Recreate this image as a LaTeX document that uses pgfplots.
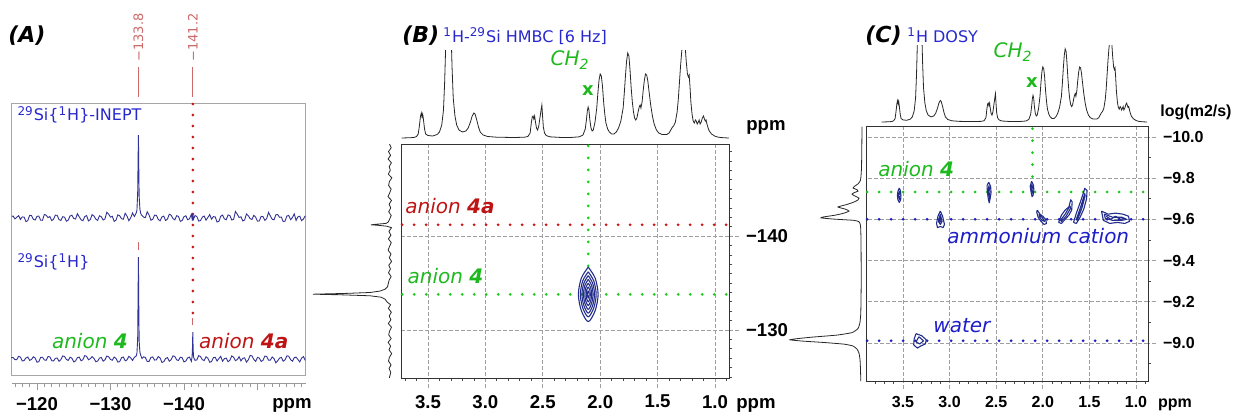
\documentclass[border=0pt]{standalone}
\usepackage{fontspec}
\setmainfont{DejaVu Sans}
\newfontfamily\arialf{Liberation Sans}
\usepackage{pgfplots}
\usepackage{pgfplotstable}
\pgfplotsset{compat=1.18}

\definecolor{specblue}{RGB}{50,50,150}
\definecolor{labblue}{RGB}{40,40,205}
\definecolor{labgreen}{RGB}{30,185,30}
\definecolor{labred}{RGB}{190,20,20}
\definecolor{peakred}{RGB}{205,105,105}
\definecolor{cntblue}{RGB}{35,45,140}
\definecolor{dotblue}{RGB}{30,30,200}
\definecolor{dotred}{RGB}{200,25,25}
\definecolor{dotgreen}{RGB}{30,200,30}

\newcommand{\tkAB}{\arialf\bfseries\fontsize{9.3}{11}\selectfont}
\newcommand{\tkC}{\arialf\bfseries\fontsize{8}{9.5}\selectfont}
\newcommand{\lab}{\fontsize{10}{12}\selectfont}
\newcommand{\sml}{\fontsize{8}{9.6}\selectfont}
\newcommand{\pan}{\fontsize{11}{13}\selectfont\bfseries\itshape}

\pgfplotsset{
  nmr/.style={scale only axis, anchor=south west, x dir=reverse},
  nmrline/.style={black!85, line width=0.4pt},
  dotl/.style={line width=1.5pt, line cap=round, dash pattern=on 0pt off 6pt},
  cntr/.style={cntblue, line width=0.55pt, line join=round},
  gridd/.style={gray!75, line width=0.35pt, dash pattern=on 2pt off 1pt},
}

% 1H spectrum (heights in px of panel B)
\pgfplotstableread{
x h
3.73 0
3.65 0.3
3.62 0.6
3.60 1.5
3.585 4
3.575 12
3.565 22
3.558 25
3.552 21
3.546 24
3.54 19
3.53 9
3.52 4
3.50 2.5
3.46 2
3.42 3.5
3.40 6
3.38 13
3.365 28
3.355 55
3.345 95
3.33 150
3.315 150
3.30 110
3.29 70
3.28 40
3.265 22
3.25 13
3.23 8
3.20 6
3.17 7
3.15 10
3.13 16
3.115 22
3.10 25
3.09 24
3.075 18
3.06 11
3.045 6
3.02 3
2.98 1.5
2.90 0.8
2.75 0.5
2.66 0.8
2.63 1.5
2.61 5
2.60 15
2.592 21
2.585 22
2.578 19
2.571 22
2.565 17
2.555 10
2.545 8
2.535 12
2.525 20
2.515 28
2.508 33
2.502 22
2.495 11
2.485 5
2.47 2.5
2.44 1.2
2.35 0.6
2.25 0.6
2.18 1.2
2.15 3
2.13 9
2.12 18
2.112 27
2.105 31
2.098 28
2.09 18
2.08 10
2.07 7
2.06 8
2.045 16
2.03 30
2.02 45
2.01 58
2.00 64
1.99 62
1.98 52
1.97 36
1.96 24
1.95 15
1.935 9
1.92 6
1.90 4
1.88 4
1.86 6
1.84 10
1.82 17
1.80 30
1.79 45
1.78 62
1.77 77
1.76 85
1.75 82
1.74 68
1.73 50
1.72 36
1.71 26
1.70 20
1.69 18
1.68 20
1.67 26
1.66 31
1.652 33
1.645 30
1.635 36
1.625 48
1.615 58
1.605 64
1.595 63
1.585 57
1.575 47
1.56 33
1.545 22
1.53 14
1.51 8
1.49 5
1.46 3.5
1.42 3.5
1.40 5
1.385 8
1.37 11
1.36 12
1.345 16
1.33 26
1.32 38
1.31 55
1.30 72
1.29 86
1.28 96
1.27 98
1.26 92
1.25 76
1.24 64
1.232 61
1.225 63
1.218 52
1.21 36
1.20 24
1.19 17
1.18 15
1.17 18
1.163 17
1.155 14
1.145 16
1.138 18
1.13 14
1.12 16
1.11 20
1.10 22
1.092 19
1.085 17
1.078 18
1.07 14
1.06 10
1.05 7
1.03 4
1.00 1.8
0.97 0.8
0.93 0.3
0.88 0
}\hspec

% 29Si projection of panel B
\pgfplotstableread{
p h
-149.8 0.5
-149.4 -1.2
-149.0 1.5
-148.6 -0.6
-148.2 1.9
-147.8 -1.4
-147.4 0.8
-147.0 -0.3
-146.6 1.7
-146.2 -1.8
-145.8 0.6
-145.4 1.4
-145.0 -1.1
-144.6 0.3
-144.2 2.0
-143.8 -1.5
-143.4 0.9
-143.0 -0.7
-142.6 1.3
-142.2 -1.2
-141.8 0.4
-141.5 1.8
-141.35 4
-141.25 15
-141.2 19
-141.15 12
-141.05 3
-140.9 -1.5
-140.5 1.1
-140.1 -0.9
-139.7 1.6
-139.3 -1.3
-138.9 0.5
-138.5 1.9
-138.1 -1.0
-137.7 0.7
-137.3 -1.6
-136.9 1.2
-136.5 -0.4
-136.1 1.5
-135.7 -1.1
-135.3 0.9
-134.9 1.8
-134.6 2.5
-134.35 5
-134.15 10
-134.0 20
-133.9 45
-133.82 77
-133.75 48
-133.65 20
-133.5 9
-133.3 5
-133.0 3
-132.7 -0.5
-132.3 1.6
-131.9 -1.3
-131.5 0.8
-131.1 -0.9
-130.7 1.7
-130.3 -1.5
-129.9 0.4
-129.5 1.3
-129.1 -1.2
-128.7 1.9
-128.3 -0.6
-127.9 1.0
-127.5 -1.7
-127.1 0.6
-126.7 1.5
-126.3 -1.0
-125.9 0.9
-125.5 -0.8
-124.9 0.7
}\siproj

% panel A: INEPT (up) and 29Si{1H} (lo), px above each baseline
\pgfplotstableread{
x up lo
-156.5 2.2 -1.4
-156.25 -1.0 2.5
-156.0 -2.7 0.8
-155.75 1.8 -2.9
-155.5 1.1 -0.5
-155.25 -2.4 1.9
-155.0 4.1 1.3
-154.75 0.3 -2.2
-154.5 -1.6 -0.5
-154.25 2.6 2.8
-154.0 2.0 3.2
-153.75 -3.1 -0.9
-153.5 -3.6 -2.2
-153.25 0.9 1.6
-153.0 0.7 0.9
-152.75 3.5 -1.7
-152.5 3.2 -3.8
-152.25 -1.8 0.4
-152.0 -1.3 2.0
-151.75 2.1 -1.1
-151.5 5.6 -1.1
-151.25 -0.6 2.6
-151.0 -2.3 2.9
-150.75 1.4 -1.3
-150.5 1.6 -2.5
-150.25 -2.9 1.0
-150.0 -3.2 1.6
-149.75 0.8 -2.4
-149.5 2.7 -0.4
-149.25 -1.5 3.1
-149.0 -0.7 3.6
-148.75 2.3 -0.8
-148.5 4.0 -3.1
-148.25 -2.0 1.2
-148.0 -2.9 0.7
-147.75 1.2 -1.9
-147.5 0.5 2.3
-147.25 3.8 -0.6
-147.0 6.5 -1.6
-146.75 -1.4 1.8
-146.5 -2.0 3.1
-146.25 2.4 -1.2
-146.0 3.1 -2.7
-145.75 -1.7 0.9
-145.5 -0.9 0.4
-145.25 2.9 -2.3
-145.0 1.8 2.7
-144.75 -3.3 0.5
-144.5 -4.0 -2.0
-144.25 1.1 1.7
-144.0 1.4 1.4
-143.75 -1.2 -2.6
-143.5 3.4 -3.2
-143.25 0.6 0.8
-143.0 -2.2 2.2
-142.75 2.0 -1.5
-142.5 0.9 -0.7
-142.25 -2.6 2.4
-142.0 -3.1 3.4
-141.75 1.5 -0.9
-141.5 2.5 -1.3
-141.3 -1.1 2
-141.25 1.4 9
-141.2 -2.7 27
-141.15 1.6 10
-141.1 -0.7 2
-141.0 3.6 -2.3
-140.75 -0.8 1.9
-140.5 -1.8 1.1
-140.25 2.2 -2.0
-140.0 1.3 -2.9
-139.75 -2.5 1.3
-139.5 -3.4 1.8
-139.25 1.6 -1.4
-139.0 2.3 -0.9
-138.75 -1.9 2.6
-138.5 -0.5 3.2
-138.25 2.8 -0.7
-138.0 3.8 -2.2
-137.75 -1.1 1.4
-137.5 -2.5 0.5
-137.25 1.9 -2.7
-137.0 1.1 -3.4
-136.75 -2.8 1.1
-136.5 -1.4 2.5
-136.25 2.6 -0.8
-136.0 2.9 -1.1
-135.75 -1.3 2.1
-135.5 -2.2 1.6
-135.25 3.0 -2.4
-135.0 6.3 -2.5
-134.75 0.4 1.5
-134.5 0.9 2.2
-134.3 2.5 0.5
-134.2 3 2
-134.1 5 4
-134.0 9 7
-133.9 22 18
-133.85 50 55
-133.8 83 102
-133.75 55 60
-133.7 25 20
-133.6 8 6
-133.5 5 3
-133.25 1.5 1.8
-133.0 5.0 -1.4
-132.75 0.2 1.2
-132.5 -2.7 2.7
-132.25 1.9 -0.9
-132.0 4.7 -1.8
-131.75 -1.2 2.0
-131.5 -0.7 1.3
-131.25 2.3 -2.6
-131.0 3.2 -3.1
-130.75 -2.2 0.6
-130.5 -3.4 2.0
-130.25 1.7 -1.2
-130.0 0.9 -0.5
-129.75 3.9 2.3
-129.5 5.8 2.9
-129.25 -0.9 -0.8
-129.0 -2.0 -2.2
-128.75 1.3 1.5
-128.5 2.2 0.9
-128.25 -2.4 -2.1
-128.0 -1.1 -2.7
-127.75 2.0 0.7
-127.5 3.4 2.3
-127.25 -1.6 0.3
-127.0 -2.9 -0.7
-126.75 2.5 2.7
-126.5 1.4 3.4
-126.25 -2.7 -0.6
-126.0 -1.8 -1.8
-125.75 1.2 1.9
-125.5 4.3 1.4
-125.25 -1.0 -1.9
-125.0 -0.5 -2.9
-124.75 2.8 0.8
-124.5 2.0 1.8
-124.25 -2.1 -1.4
-124.0 -3.2 -0.4
-123.75 0.8 2.5
-123.5 1.3 3.1
-123.25 -2.5 -0.6
-123.0 -1.6 -2.3
-122.75 2.6 1.0
-122.5 2.9 0.7
-122.25 -1.3 -2.0
-122.0 -2.5 -1.6
-121.75 1.5 2.2
-121.5 0.4 2.5
-121.25 2.7 -1.3
-121.0 3.6 -0.9
-120.75 -2.3 1.8
-120.5 -2.2 1.6
-120.25 1.9 -2.6
-120.0 1.6 -3.2
-119.75 -2.0 1.0
-119.5 -1.3 2.2
-119.25 2.4 -0.5
-119.0 2.7 -1.3
-118.75 -2.6 2.0
-118.5 -3.6 1.1
-118.25 0.9 -1.5
-118.0 1.1 -2.0
-117.75 -1.4 1.9
-117.5 2.3 2.7
-117.25 0.8 -0.6
-117.0 -0.9 -0.7
-116.75 2.0 1.5
-116.5 1.4 1.3
}\aspec

% DOSY projection of panel C
\pgfplotstableread{
p h
-10.05 0
-9.95 0.2
-9.85 0.5
-9.80 1.2
-9.785 2
-9.772 4
-9.762 7
-9.752 9
-9.744 5
-9.737 4
-9.729 8
-9.722 10
-9.713 7
-9.703 3
-9.694 4
-9.684 8
-9.672 15
-9.660 24
-9.650 17
-9.640 13
-9.630 18
-9.620 27
-9.612 38
-9.607 41
-9.601 28
-9.595 8
-9.588 3
-9.57 1.5
-9.50 1
-9.3 0.8
-9.15 1.2
-9.10 2
-9.07 4
-9.05 10
-9.038 25
-9.028 50
-9.02 66
-9.015 72
-9.009 60
-9.002 38
-8.994 18
-8.985 9
-8.97 5
-8.95 3
-8.92 2
-8.87 1.5
-8.815 1.2
}\dproj

\begin{document}
\begin{tikzpicture}
\path[use as bounding box] (0,0) rectangle (618pt,-207pt);

% ================= panel A =================
\begin{axis}[nmr, at={(6pt,-191.5pt)}, width=147pt, height=2pt,
  xmin=-156.6, xmax=-116.6, ymin=0, ymax=1,
  axis x line=bottom, hide y axis, x axis line style={-, gray!80},
  tick align=outside, xtick={-150,-140,-130,-120}, xticklabels={,−140,−130,−120},
  minor xtick={-156,-155,...,-117},
  major tick length=3.5pt, minor tick length=2pt,
  tick style={gray!80, line width=0.4pt},
  ticklabel style={font=\tkAB}]
\end{axis}

\begin{axis}[nmr, at={(6pt,-187.5pt)}, width=147pt, height=136pt,
  xmin=-156.6, xmax=-116.6, ymin=-16, ymax=256,
  xtick=\empty, ytick=\empty, axis line style={gray!70, line width=0.5pt}, clip=false]
\addplot[specblue, line width=0.45pt] table[x=x,y=lo]{\aspec};
\addplot[dotl, dotred, dash pattern=on 0pt off 5.5pt] coordinates {(-141.2,255) (-141.2,46)};
\addplot[peakred, line width=0.4pt] coordinates {(-133.8,262) (-133.8,292)};
\addplot[peakred, line width=0.4pt] coordinates {(-141.2,262) (-141.2,292)};
\addplot[peakred, line width=0.4pt] coordinates {(-133.8,109) (-133.8,117)};
\addplot[peakred, line width=0.4pt] coordinates {(-141.2,34) (-141.2,41)};
\node[rotate=90, anchor=west, text=peakred, font=\fontsize{6.5}{8}\selectfont, inner sep=1pt] at (axis cs:-133.8,295) {−133.8};
\node[rotate=90, anchor=west, text=peakred, font=\fontsize{6.5}{8}\selectfont, inner sep=1pt] at (axis cs:-141.2,295) {−141.2};
\node[anchor=west, text=labblue, font=\sml, inner sep=0pt] at (axis cs:-117.3,244) {\textsuperscript{29}Si\{\textsuperscript{1}H\}-INEPT};
\node[anchor=west, text=labblue, font=\sml, inner sep=0pt] at (axis cs:-117.3,97) {\textsuperscript{29}Si\{\textsuperscript{1}H\}};
\node[anchor=base east, text=labgreen, font=\lab, inner sep=0pt] at (axis cs:-132.4,11) {\textit{anion} \textbf{\textit{4}}};
\node[anchor=base west, text=labred, font=\lab, inner sep=0pt] at (axis cs:-142.0,11) {\textit{anion} \textbf{\textit{4a}}};
\end{axis}

\begin{axis}[nmr, hide axis, at={(6pt,-187.5pt)}, width=147pt, height=136pt,
  xmin=-156.6, xmax=-116.6, ymin=-157, ymax=115]
\addplot[specblue, line width=0.45pt] table[x=x,y=up]{\aspec};
\end{axis}

% ================= panel B =================
\begin{axis}[nmr, hide axis, at={(200.5pt,-70pt)}, width=164pt, height=45pt,
  xmin=0.878, xmax=3.735, ymin=-2, ymax=88]
\addplot[nmrline] table[x=x,y=h]{\hspec};
\end{axis}

\begin{axis}[nmr, hide axis, at={(152.5pt,-189pt)}, width=45pt, height=117pt,
  xmin=-5, xmax=85, ymin=-149.8, ymax=-124.9, y dir=reverse]
\addplot[nmrline] table[x=h,y=p]{\siproj};
\end{axis}

\begin{axis}[nmr, at={(200.5pt,-189pt)}, width=164pt, height=117pt,
  xmin=0.878, xmax=3.735, ymin=-149.8, ymax=-124.9, y dir=reverse,
  xtick={1,1.5,2,2.5,3,3.5}, xticklabels={1.0,1.5,2.0,2.5,3.0,3.5},
  minor xtick={0.9,1.1,1.2,1.3,1.4,1.6,1.7,1.8,1.9,2.1,2.2,2.3,2.4,2.6,2.7,2.8,2.9,3.1,3.2,3.3,3.4,3.6,3.7},
  ytick={-140,-130}, yticklabels={−140,−130},
  minor ytick={-149,-148,-147,-146,-145,-144,-143,-142,-141,-139,-138,-137,-136,-135,-134,-133,-132,-131,-129,-128,-127,-126,-125},
  xtick pos=bottom, ytick pos=right, yticklabel pos=right,
  tick align=outside, grid=major, major grid style={gridd},
  major tick length=5pt, minor tick length=1.6pt,
  major tick style={gridd}, minor tick style={black!70, line width=0.4pt},
  axis line style={black!80, line width=0.5pt},
  ticklabel style={font=\tkAB}, clip=false]
\addplot[dotl, dotred] coordinates {(3.725,-141.2) (0.88,-141.2)};
\addplot[dotl, dotgreen] coordinates {(3.725,-133.8) (0.88,-133.8)};
\addplot[dotl, dotgreen] coordinates {(2.104,-149.6) (2.104,-136.8)};
\addplot[cntr, smooth] coordinates {(2.104,-136.7) (2.044,-135.54) (2.018,-133.8) (2.044,-132.06) (2.104,-130.9) (2.164,-132.06) (2.190,-133.8) (2.164,-135.54) (2.104,-136.7)};
\addplot[cntr, smooth] coordinates {(2.104,-136.2) (2.056,-135.24) (2.035,-133.8) (2.056,-132.36) (2.104,-131.4) (2.152,-132.36) (2.173,-133.8) (2.152,-135.24) (2.104,-136.2)};
\addplot[cntr, smooth] coordinates {(2.104,-135.8) (2.066,-135.0) (2.049,-133.8) (2.066,-132.6) (2.104,-131.8) (2.142,-132.6) (2.159,-133.8) (2.142,-135.0) (2.104,-135.8)};
\addplot[cntr, smooth] coordinates {(2.104,-135.4) (2.075,-134.76) (2.062,-133.8) (2.075,-132.84) (2.104,-132.2) (2.133,-132.84) (2.146,-133.8) (2.133,-134.76) (2.104,-135.4)};
\addplot[cntr, smooth] coordinates {(2.104,-135.0) (2.083,-134.52) (2.074,-133.8) (2.083,-133.08) (2.104,-132.6) (2.125,-133.08) (2.134,-133.8) (2.125,-134.52) (2.104,-135.0)};
\addplot[cntr, smooth] coordinates {(2.104,-134.6) (2.091,-134.28) (2.086,-133.8) (2.091,-133.32) (2.104,-133.0) (2.117,-133.32) (2.122,-133.8) (2.117,-134.28) (2.104,-134.6)};
\addplot[cntr, smooth] coordinates {(2.104,-134.2) (2.098,-134.0) (2.096,-133.8) (2.098,-133.6) (2.104,-133.4) (2.110,-133.6) (2.112,-133.8) (2.110,-134.0) (2.104,-134.2)};
\node[anchor=base west, text=labred, font=\lab, inner sep=0pt] at (axis cs:3.70,-142.45) {\textit{anion} \textbf{\textit{4a}}};
\node[anchor=base west, text=labgreen, font=\lab, inner sep=0pt] at (axis cs:3.68,-135.0) {\textit{anion} \textbf{\textit{4}}};
\end{axis}

% ================= panel C =================
\begin{axis}[nmr, hide axis, at={(433pt,-62pt)}, width=141pt, height=39.5pt,
  xmin=0.871, xmax=3.897, ymin=-2.3, ymax=89.5]
\addplot[nmrline] table[x=x,y=h]{\hspec};
\end{axis}

\begin{axis}[nmr, hide axis, at={(392.5pt,-190.5pt)}, width=40.5pt, height=127.5pt,
  xmin=-4, xmax=77, ymin=-10.053, ymax=-8.815, y dir=reverse]
\addplot[nmrline, smooth, tension=0.3] table[x=h,y=p]{\dproj};
\end{axis}

\begin{axis}[nmr, at={(433pt,-190.5pt)}, width=141pt, height=127.5pt,
  xmin=0.871, xmax=3.897, ymin=-10.053, ymax=-8.815, y dir=reverse,
  xtick={1,1.5,2,2.5,3,3.5}, xticklabels={1.0,1.5,2.0,2.5,3.0,3.5},
  minor xtick={0.9,1.1,1.2,1.3,1.4,1.6,1.7,1.8,1.9,2.1,2.2,2.3,2.4,2.6,2.7,2.8,2.9,3.1,3.2,3.3,3.4,3.6,3.7,3.8},
  ytick={-10,-9.8,-9.6,-9.4,-9.2,-9.0}, yticklabels={−10.0,−9.8,−9.6,−9.4,−9.2,−9.0},
  minor ytick={-9.9,-9.7,-9.5,-9.3,-9.1,-8.9},
  xtick pos=bottom, ytick pos=right, yticklabel pos=right,
  tick align=outside, grid=major, major grid style={gridd},
  major tick length=4pt, minor tick length=1.6pt,
  major tick style={gridd}, minor tick style={black!70, line width=0.4pt},
  axis line style={black!80, line width=0.5pt},
  ticklabel style={font=\tkC}, clip=false]
\addplot[dotl, dotgreen] coordinates {(3.885,-9.733) (0.875,-9.733)};
\addplot[dotl, dotblue] coordinates {(3.885,-9.60) (0.875,-9.60)};
\addplot[dotl, dotblue] coordinates {(3.885,-9.01) (0.875,-9.01)};
\addplot[dotl, dotgreen] coordinates {(2.11,-10.04) (2.11,-9.80)};
% contour blobs
\addplot[cntr] coordinates {(3.54,-9.752) (3.555,-9.735) (3.56,-9.716) (3.555,-9.695) (3.54,-9.682) (3.525,-9.695) (3.522,-9.716) (3.527,-9.738) (3.54,-9.752)};
\addplot[cntr] coordinates {(3.54,-9.738) (3.55,-9.716) (3.54,-9.695) (3.53,-9.716) (3.54,-9.738)};
\addplot[cntr] coordinates {(3.10,-9.64) (3.075,-9.615) (3.055,-9.575) (3.07,-9.56) (3.10,-9.565) (3.13,-9.56) (3.14,-9.58) (3.125,-9.615) (3.10,-9.64)};
\addplot[cntr] coordinates {(3.10,-9.625) (3.08,-9.59) (3.10,-9.575) (3.12,-9.59) (3.10,-9.625)};
\addplot[cntr] coordinates {(3.10,-9.61) (3.09,-9.59) (3.11,-9.585) (3.10,-9.61)};
\addplot[cntr] coordinates {(2.58,-9.78) (2.56,-9.76) (2.555,-9.73) (2.565,-9.70) (2.575,-9.68) (2.585,-9.70) (2.595,-9.735) (2.598,-9.765) (2.58,-9.78)};
\addplot[cntr] coordinates {(2.578,-9.765) (2.567,-9.735) (2.575,-9.70) (2.585,-9.735) (2.578,-9.765)};
\addplot[cntr] coordinates {(2.12,-9.785) (2.10,-9.765) (2.095,-9.74) (2.105,-9.715) (2.115,-9.71) (2.125,-9.73) (2.135,-9.76) (2.12,-9.785)};
\addplot[cntr] coordinates {(2.118,-9.77) (2.105,-9.745) (2.115,-9.725) (2.125,-9.75) (2.118,-9.77)};
\addplot[cntr] coordinates {(2.06,-9.645) (2.03,-9.625) (2.0,-9.615) (1.97,-9.60) (1.96,-9.58) (1.985,-9.575) (2.02,-9.59) (2.05,-9.61) (2.065,-9.635) (2.06,-9.645)};
\addplot[cntr] coordinates {(2.04,-9.625) (2.0,-9.605) (1.98,-9.59) (2.01,-9.595) (2.04,-9.615) (2.04,-9.625)};
\addplot[cntr] coordinates {(1.83,-9.585) (1.80,-9.62) (1.76,-9.645) (1.72,-9.66) (1.70,-9.695) (1.685,-9.685) (1.69,-9.645) (1.72,-9.62) (1.76,-9.60) (1.80,-9.58) (1.83,-9.585)};
\addplot[cntr] coordinates {(1.81,-9.595) (1.76,-9.625) (1.71,-9.665) (1.70,-9.655) (1.75,-9.615) (1.80,-9.59) (1.81,-9.595)};
\addplot[cntr] coordinates {(1.67,-9.585) (1.64,-9.63) (1.60,-9.68) (1.57,-9.72) (1.55,-9.75) (1.525,-9.74) (1.53,-9.70) (1.56,-9.65) (1.60,-9.61) (1.64,-9.58) (1.67,-9.585)};
\addplot[cntr] coordinates {(1.64,-9.60) (1.59,-9.665) (1.55,-9.725) (1.545,-9.715) (1.58,-9.655) (1.63,-9.595) (1.64,-9.60)};
\addplot[cntr] coordinates {(1.37,-9.64) (1.30,-9.625) (1.22,-9.63) (1.14,-9.625) (1.08,-9.615) (1.07,-9.59) (1.12,-9.58) (1.20,-9.585) (1.28,-9.58) (1.35,-9.595) (1.37,-9.64)};
\addplot[cntr] coordinates {(1.34,-9.625) (1.25,-9.61) (1.15,-9.61) (1.10,-9.60) (1.15,-9.595) (1.25,-9.595) (1.33,-9.605) (1.34,-9.625)};
\addplot[cntr] coordinates {(1.32,-9.615) (1.27,-9.60) (1.22,-9.615) (1.17,-9.60) (1.12,-9.605)};
\addplot[cntr] coordinates {(3.36,-9.045) (3.30,-9.035) (3.25,-9.015) (3.26,-8.995) (3.31,-8.985) (3.345,-8.975) (3.385,-8.99) (3.38,-9.02) (3.36,-9.045)};
\addplot[cntr] coordinates {(3.33,-9.03) (3.28,-9.01) (3.32,-8.995) (3.36,-9.005) (3.33,-9.03)};
\node[anchor=base west, text=labgreen, font=\lab, inner sep=0pt] at (axis cs:3.768,-9.806) {\textit{anion} \textbf{\textit{4}}};
\node[anchor=base west, text=dotblue, font=\lab, inner sep=0pt] at (axis cs:3.028,-9.485) {\textit{ammonium cation}};
\node[anchor=base west, text=dotblue, font=\lab, inner sep=0pt] at (axis cs:3.178,-9.049) {\textit{water}};
\end{axis}

% ================= free text =================
\node[anchor=base west, font=\pan, inner sep=0pt] at (4pt,-21pt) {(A)};
\node[anchor=base west, font=\pan, inner sep=0pt] at (201pt,-21pt) {(B)};
\node[anchor=base west, font=\sml, text=labblue, inner sep=0pt] at (221.5pt,-21pt) {\textsuperscript{1}H-\textsuperscript{29}Si HMBC [6 Hz]};
\node[anchor=base west, font=\pan, inner sep=0pt] at (432.5pt,-21pt) {(C)};
\node[anchor=base west, font=\sml, text=labblue, inner sep=0pt] at (453.5pt,-21pt) {\textsuperscript{1}H DOSY};
\node[font=\lab\itshape, text=labgreen, inner sep=0pt] at (285pt,-30pt) {CH\textsubscript{2}};
\node[font=\fontsize{9}{10}\selectfont\bfseries, text=labgreen, inner sep=0pt] at (294pt,-45.5pt) {x};
\node[font=\lab\itshape, text=labgreen, inner sep=0pt] at (506.5pt,-26pt) {CH\textsubscript{2}};
\node[font=\fontsize{9}{10}\selectfont\bfseries, text=labgreen, inner sep=0pt] at (516pt,-41.5pt) {x};
\node[font=\tkAB, inner sep=0pt] at (146pt,-202.5pt) {ppm};
\node[font=\tkAB, inner sep=0pt] at (383pt,-63.5pt) {ppm};
\node[font=\tkAB, inner sep=0pt] at (378pt,-202.5pt) {ppm};
\node[font=\tkC, inner sep=0pt] at (598pt,-56pt) {log(m2/s)};
\node[font=\tkC, inner sep=0pt] at (587.5pt,-202.5pt) {ppm};
\end{tikzpicture}
\end{document}
